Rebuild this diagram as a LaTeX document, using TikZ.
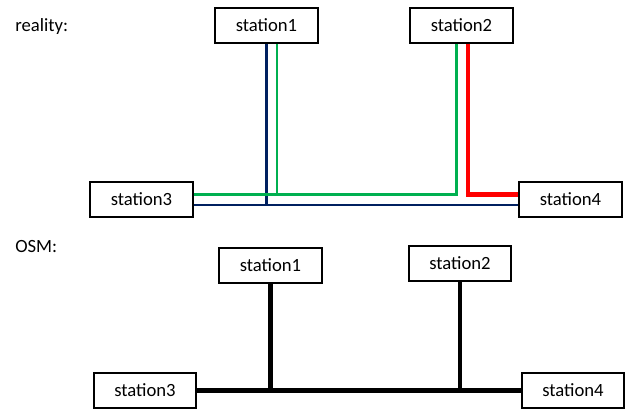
\documentclass[tikz,border=0pt]{standalone}
\usepackage{fontspec}
\setmainfont{Carlito}
\usetikzlibrary{calc}

\definecolor{navyblue}{HTML}{002060}
\definecolor{linegreen}{HTML}{00B050}
\definecolor{linered}{HTML}{FF0000}

\begin{document}
\begin{tikzpicture}
    [ x=0.75pt, y=-0.75pt
    , every node/.style={font=\fontsize{14}{16}\selectfont}
    , station/.style={draw, line width=1.5pt, minimum width=77pt, minimum height=26pt, inner sep=0pt}
    , maplabel/.style={anchor=west, inner sep=0pt}
    , navyline/.style={draw=navyblue, line width=2.1pt}
    , greenline/.style={draw=linegreen, line width=2.1pt}
    , redline/.style={draw=linered, line width=3.6pt}
    , osmline/.style={draw=black, line width=3.6pt}
    ]
  \useasboundingbox (0,0) rectangle (625,408);

  % reality
  \node[maplabel] (reality) at (15,27) {reality:};
  \node[station] (r1) at (266.5,25.5) {station1};
  \node[station] (r2) at (461.5,25.5) {station2};
  \node[station] (r3) at (141.5,199.5) {station3};
  \node[station] (r4) at (570.5,199.5) {station4};

  \draw[navyline] (r1.south) -- ($(r1.south |- r3.east)+(0,5.5)$);
  \draw[navyline] ($(r3.east)+(0,5.5)$) -- ($(r4.west)+(0,5.5)$);
  \draw[greenline] ($(r1.south)+(10.5,0)$) -- ($(r1.south |- r3.east)+(10.5,-5)$);
  \draw[greenline] ($(r3.east)+(0,-5)$) -| ($(r2.south)+(-5,0)$);
  \draw[redline] ($(r2.south)+(6.5,0)$) |- ($(r4.west)+(0,-5)$);

  % OSM
  \node[maplabel] (osm) at (15,247) {OSM:};
  \node[station] (o1) at (270.5,265.5) {station1};
  \node[station] (o2) at (460,263.5) {station2};
  \node[station] (o3) at (145,390.5) {station3};
  \node[station] (o4) at (573,390.5) {station4};

  \draw[osmline] (o3.east) -- (o4.west);
  \draw[osmline] (o1.south) -- (o1.south |- o3.east);
  \draw[osmline] (o2.south) -- (o2.south |- o3.east);
\end{tikzpicture}
\end{document}
